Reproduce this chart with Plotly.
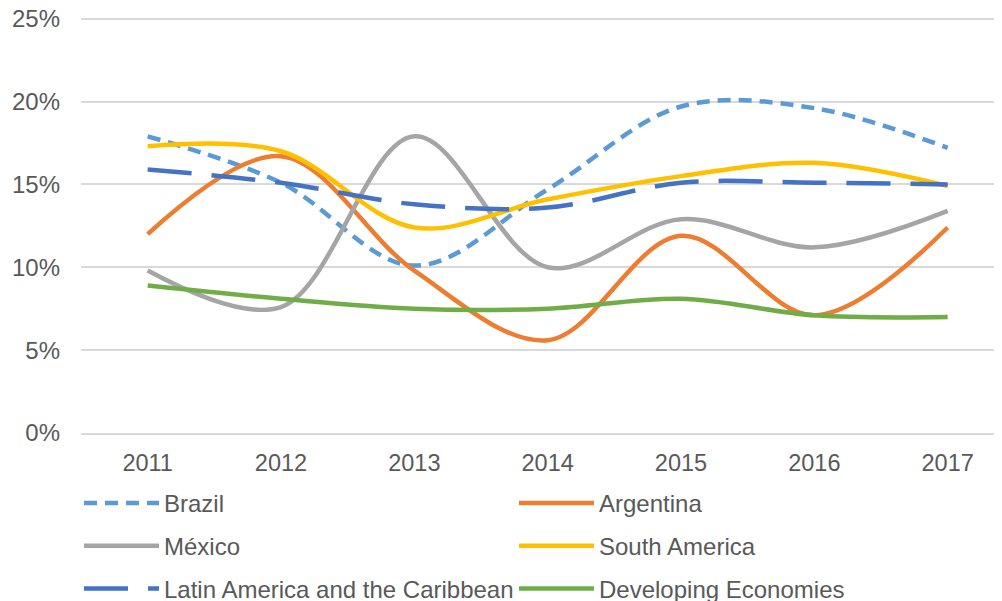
import plotly.graph_objects as go

years = ["2011", "2012", "2013", "2014", "2015", "2016", "2017"]

brazil = [0.179, 0.151, 0.101, 0.147, 0.197, 0.196, 0.172]
argentina = [0.120, 0.167, 0.098, 0.056, 0.119, 0.071, 0.124]
mexico = [0.098, 0.076, 0.179, 0.100, 0.129, 0.112, 0.134]
south_america = [0.173, 0.170, 0.124, 0.141, 0.155, 0.163, 0.149]
latam = [0.159, 0.151, 0.138, 0.136, 0.151, 0.151, 0.150]
developing = [0.089, 0.081, 0.075, 0.075, 0.081, 0.071, 0.070]

series = [
    ("Brazil", brazil, "#5b9bd5", "13px,8px", "legend"),
    ("Argentina", argentina, "#ed7d31", "solid", "legend2"),
    ("México", mexico, "#a5a5a5", "solid", "legend"),
    ("South America", south_america, "#ffc000", "solid", "legend2"),
    ("Latin America and the Caribbean", latam, "#4472c4", "44px,20px", "legend"),
    ("Developing Economies", developing, "#70ad47", "solid", "legend2"),
]

fig = go.Figure()
for name, vals, color, dash, leg in series:
    fig.add_trace(go.Scatter(
        x=years, y=vals, name=name, mode="lines", legend=leg, legendgroup=name,
        line=dict(color=color, width=4.5, dash=dash, shape="spline", smoothing=1.0),
    ))

# the page body adds an 8px offset, so the figure is 8px smaller each way
W, H = 994, 593
font = dict(family="Liberation Sans, Arial, sans-serif", size=24, color="#595959")
legend_common = dict(
    orientation="v", xref="container", yref="container", xanchor="left", yanchor="top",
    font=font, itemwidth=75, tracegroupgap=8.5, bgcolor="rgba(0,0,0,0)",
)
fig.update_layout(
    width=W, height=H,
    margin=dict(l=73, r=1, t=9, b=168, autoexpand=False),
    plot_bgcolor="white", paper_bgcolor="white",
    font=font,
    legend=dict(x=71 / W, y=1 - 473 / H, **legend_common),
    legend2=dict(x=506 / W, y=1 - 473 / H, **legend_common),
)
fig.update_xaxes(
    type="category", range=[-0.5, 6.4], showgrid=False,
    showline=True, linecolor="#d9d9d9", linewidth=1.5,
    ticks="", ticklabelstandoff=8, zeroline=False,
    tickfont=dict(size=23.5),
)
fig.update_yaxes(
    range=[0, 0.251], tickvals=[0, 0.05, 0.10, 0.15, 0.20, 0.25], tickformat=".0%",
    showgrid=True, gridcolor="#d9d9d9", gridwidth=1.5,
    zeroline=False, ticks="", ticklabelstandoff=20, ticklabeloverflow="allow",
)

fig.write_html("out.html")
